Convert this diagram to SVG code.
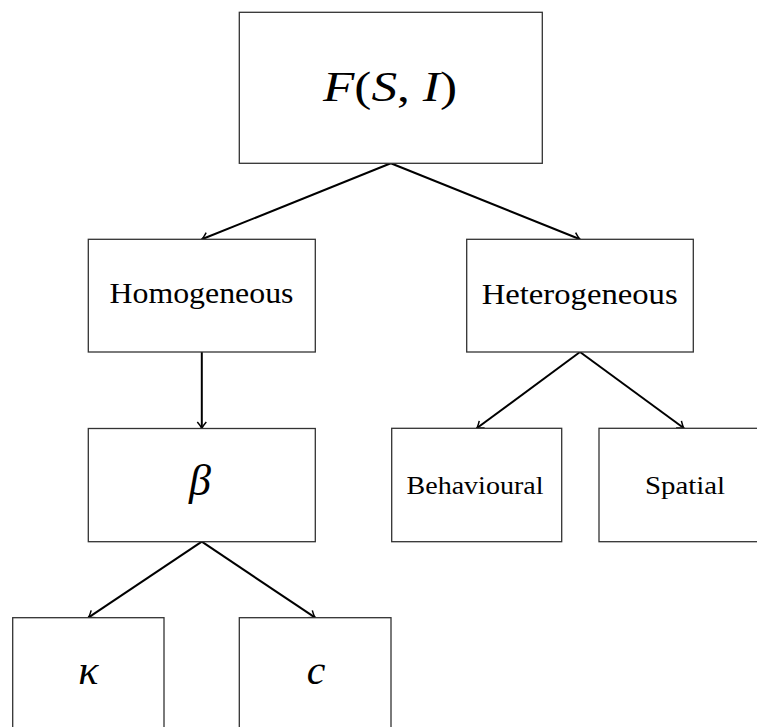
<svg xmlns="http://www.w3.org/2000/svg" width="757" height="727" viewBox="0 0 757 727">
<style>
.box{fill:#fff;stroke:#333;stroke-width:1.3}
.lbl{font-family:"Liberation Serif","DejaVu Serif",serif;fill:#000;text-anchor:middle}
.it{font-style:italic}
.edge{stroke:#000;stroke-width:2;fill:none;marker-end:url(#arr)}
</style>
<defs>
<marker id="arr" markerUnits="userSpaceOnUse" markerWidth="14" markerHeight="14" viewBox="-9 -7 11 14" refX="0" refY="0" orient="auto">
<path d="M-6.5,-4.5 Q-2,-0.7 0,0 Q-2,0.7 -6.5,4.5" fill="none" stroke="#000" stroke-width="1.5"/>
</marker>
</defs>
<rect width="757" height="727" fill="#fff"/>
<g id="connectors">
<line class="edge" x1="390.8" y1="163.3" x2="201.8" y2="239.3"/>
<line class="edge" x1="390.8" y1="163.3" x2="580" y2="239.3"/>
<line class="edge" x1="201.8" y1="352" x2="201.8" y2="428.5"/>
<line class="edge" x1="580" y1="352" x2="476.7" y2="428.3"/>
<line class="edge" x1="580" y1="352" x2="684" y2="428.3"/>
<line class="edge" x1="201.8" y1="541.7" x2="88.3" y2="617.7"/>
<line class="edge" x1="201.8" y1="541.7" x2="315.2" y2="617.7"/>
</g>
<g id="node-F">
<rect class="box" x="239.3" y="12.3" width="303" height="151"/>
<text class="lbl" x="390" y="101" font-size="43" textLength="134" lengthAdjust="spacingAndGlyphs"><tspan class="it">F</tspan>(<tspan class="it">S</tspan>, <tspan class="it">I</tspan>)</text>
</g>
<g id="node-homogeneous">
<rect class="box" x="88.3" y="239.3" width="227" height="112.7"/>
<text class="lbl" x="201.5" y="303.3" font-size="30" textLength="184" lengthAdjust="spacingAndGlyphs">Homogeneous</text>
</g>
<g id="node-heterogeneous">
<rect class="box" x="466.7" y="239.3" width="226.6" height="112.7"/>
<text class="lbl" x="579.7" y="304" font-size="30" textLength="196" lengthAdjust="spacingAndGlyphs">Heterogeneous</text>
</g>
<g id="node-beta">
<rect class="box" x="88.3" y="428.5" width="227" height="113.2"/>
<text class="lbl it" x="200" y="495" font-size="44">β</text>
</g>
<g id="node-behavioural">
<rect class="box" x="391.7" y="428.3" width="170" height="113.4"/>
<text class="lbl" x="475" y="494" font-size="25" textLength="137" lengthAdjust="spacingAndGlyphs">Behavioural</text>
</g>
<g id="node-spatial">
<rect class="box" x="599" y="428.3" width="170" height="113.4"/>
<text class="lbl" x="685" y="494" font-size="25" textLength="80" lengthAdjust="spacingAndGlyphs">Spatial</text>
</g>
<g id="node-kappa">
<rect class="box" x="12.7" y="617.7" width="151.3" height="151"/>
<text class="lbl it" x="88.3" y="684" font-size="42">κ</text>
</g>
<g id="node-c">
<rect class="box" x="239.3" y="617.7" width="151.7" height="151"/>
<text class="lbl it" x="316" y="684" font-size="42">c</text>
</g>
</svg>
